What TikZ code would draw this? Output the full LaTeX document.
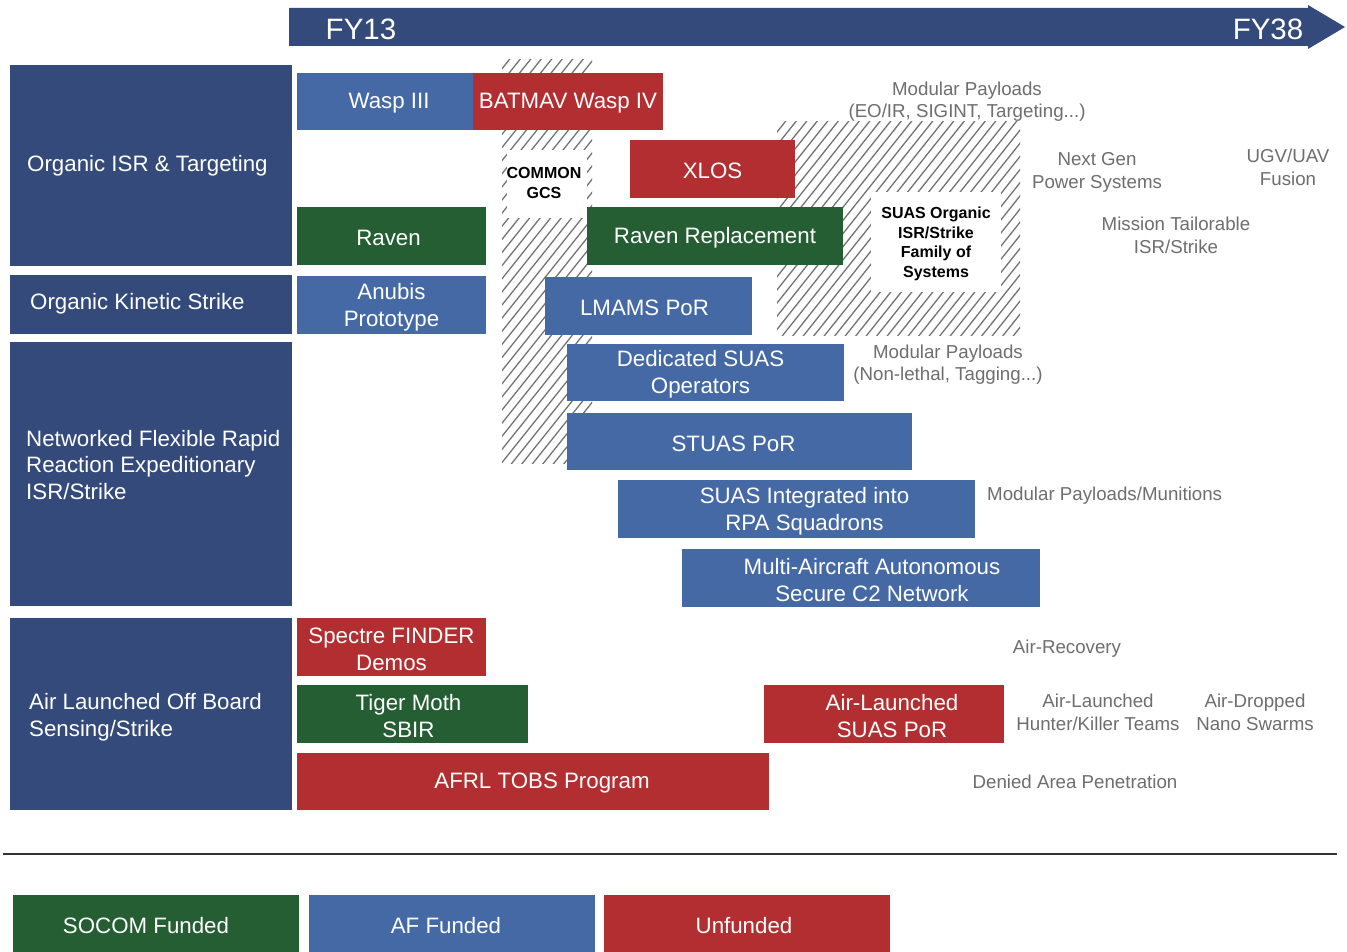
\documentclass[tikz,border=0pt]{standalone}
\usepackage{fontspec}
\setmainfont{Liberation Sans}
\definecolor{navy}{HTML}{344A7A}
\definecolor{afblue}{HTML}{4469A5}
\definecolor{socom}{HTML}{265E33}
\definecolor{unf}{HTML}{B22E30}
\definecolor{gtext}{HTML}{6E6E6E}
\definecolor{hatchc}{HTML}{737373}
\tikzset{
  pb/.style={draw=none, inner sep=0pt},
  pbt/.style={inner sep=0pt, text=white, align=center, yshift=-2pt,
             font=\fontsize{22.3}{27}\selectfont},
  cattext/.style={anchor=west, inner sep=0pt, text=white, align=left, yshift=-2pt,
             font=\fontsize{22.3}{26.5}\selectfont},
  gtxt/.style={inner sep=0pt, text=gtext, align=center, yshift=-1.5pt,
             font=\fontsize{18.7}{22.5}\selectfont},
  btxt/.style={inner sep=0pt, text=black, align=center, yshift=-1pt,
             font=\bfseries\fontsize{16}{19.7}\selectfont},
  fytext/.style={inner sep=0pt, text=white, yshift=-1pt, font=\fontsize{29.5}{32}\selectfont},
  hatchline/.style={draw=hatchc, line width=1.3pt},
  whitepatch/.style={fill=white, draw=none, inner sep=0pt}
}
% \pbox[text x-shift]{name}{x1}{y1}{x2}{y2}{colour}{text}
\newcommand\pbox[8][0]{%
  \node[pb, fill=#7, minimum width={#5-#3}, minimum height={#6-#4}] (#2) at ({(#3+#5)/2},{(#4+#6)/2}) {};
  \node[pbt] (#2-t) at ([xshift=#1pt]#2.center) {#8};}
\begin{document}
\begin{tikzpicture}[x=1pt,y=-1pt]
\useasboundingbox (0,0) rectangle (1347,952);
\fill[white] (0,0) rectangle (1347,952);
% timeline arrow
\fill[navy] (289,8) -- (1308,8) -- (1308,5) -- (1345,27) -- (1308,49) -- (1308,46) -- (289,46) -- cycle;
\node[fytext] (fy13) at (361,28) {FY13};
\node[fytext] (fy38) at (1268,28) {FY38};
% category boxes
\node[pb, fill=navy, minimum width=282, minimum height=201] (c1) at (151,165.5) {};
\node[pb, fill=navy, minimum width=282, minimum height=59] (c2) at (151,304.5) {};
\node[pb, fill=navy, minimum width=282, minimum height=264] (c3) at (151,474) {};
\node[pb, fill=navy, minimum width=282, minimum height=192] (c4) at (151,714) {};
\node[cattext] (t1) at (27,164) {Organic ISR \& Targeting};
\node[cattext] (t2) at (30,302) {Organic Kinetic Strike};
\node[cattext] (t3) at (26,463) {Networked Flexible Rapid\\Reaction Expeditionary\\ISR/Strike};
\node[cattext] (t4) at (29,715) {Air Launched Off Board\\Sensing/Strike};
% hatched regions
\begin{scope}
  \clip (502,60) rectangle (592,463);
  \foreach \i in {0,...,50} \draw[hatchline] ({160+\i*10.5},470) -- ++(336,-420);
\end{scope}
\begin{scope}
  \clip (777,122) rectangle (1020,335);
  \foreach \i in {0,...,45} \draw[hatchline] ({590+\i*10.5},340) -- ++(178,-223);
\end{scope}
\node[whitepatch, minimum width=80, minimum height=68] (gcs) at (547,184) {};
\node[btxt] (gcst) at (544,182) {COMMON\\GCS};
\node[whitepatch, minimum width=130, minimum height=99] (fos) at (936,242) {};
\node[btxt] (fost) at (936,243) {SUAS Organic\\ISR/Strike\\Family of\\Systems};
% program boxes
\pbox[4]{wasp}{297}{73}{473}{130}{afblue}{Wasp III}
\pbox{batmav}{473}{73}{663}{130}{unf}{BATMAV Wasp IV}
\pbox{xlos}{630}{140}{795}{198}{unf}{XLOS}
\pbox[-3]{raven}{297}{207}{486}{265}{socom}{Raven}
\pbox{ravenrep}{587}{207}{843}{265}{socom}{Raven Replacement}
\pbox{anubis}{297}{276}{486}{334}{afblue}{Anubis\\Prototype}
\pbox[-4]{lmams}{545}{277}{752}{335}{afblue}{LMAMS PoR}
\pbox[-5]{dedicated}{567}{344}{844}{401}{afblue}{Dedicated SUAS\\Operators}
\pbox[-6]{stuas}{567}{413}{912}{470}{afblue}{STUAS PoR}
\pbox[8]{integ}{618}{480}{975}{538}{afblue}{SUAS Integrated into\\RPA Squadrons}
\pbox[11]{multi}{682}{549}{1040}{607}{afblue}{Multi-Aircraft Autonomous\\Secure C2 Network}
\pbox{spectre}{297}{618}{486}{676}{unf}{Spectre FINDER\\Demos}
\pbox[-4]{tiger}{297}{685}{528}{743}{socom}{Tiger Moth\\SBIR}
\pbox[9]{tobs}{297}{753}{769}{810}{unf}{AFRL TOBS Program}
\pbox[8]{alsuas}{764}{685}{1004}{743}{unf}{Air-Launched\\SUAS PoR}
% gray annotations
\node[gtxt] (g1) at (967,100) {Modular Payloads\\(EO/IR, SIGINT, Targeting...)};
\node[gtxt] (g2) at (1097,171) {Next Gen\\Power Systems};
\node[gtxt] (g3) at (1288,166) {UGV/UAV\\Fusion};
\node[gtxt] (g4) at (1176,234) {Mission Tailorable\\ISR/Strike};
\node[gtxt] (g5) at (948,363) {Modular Payloads\\(Non-lethal, Tagging...)};
\node[gtxt, anchor=west] (g6) at (987,494) {Modular Payloads/Munitions};
\node[gtxt] (g7) at (1067,647) {Air-Recovery};
\node[gtxt] (g8) at (1098,711) {Air-Launched\\Hunter/Killer Teams};
\node[gtxt] (g9) at (1255,711) {Air-Dropped\\Nano Swarms};
\node[gtxt] (g10) at (1075,780) {Denied Area Penetration};
% separator
\coordinate (sepL) at (3,854);
\coordinate (sepR) at (1337,854);
\draw[line width=2.5pt, draw=black!80] (sepL) -- (sepR);
% legend
\pbox[-10]{l1}{13}{895}{299}{952}{socom}{SOCOM Funded}
\pbox[-6]{l2}{309}{895}{595}{952}{afblue}{AF Funded}
\pbox[-3]{l3}{604}{895}{890}{952}{unf}{Unfunded}
\end{tikzpicture}
\end{document}
